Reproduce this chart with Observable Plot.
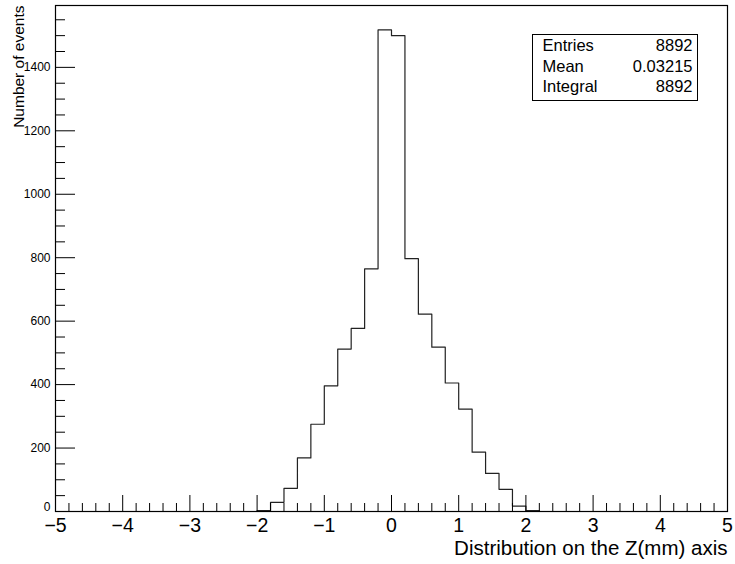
<!DOCTYPE html>
<html>
<head>
<meta charset="utf-8">
<script src="https://cdn.jsdelivr.net/npm/d3@7"></script>
<script src="https://cdn.jsdelivr.net/npm/@observablehq/plot@0.6"></script>
<style>
  html, body { margin: 0; padding: 0; background: white; }
  #chart { width: 735px; height: 564px; }
</style>
</head>
<body>
<div id="chart"></div>
<script>
// Histogram bins (left edges, width 0.2) with non-zero content
const binLeft = [-2.0, -1.8, -1.6, -1.4, -1.2, -1.0, -0.8, -0.6, -0.4, -0.2,
                 0.0, 0.2, 0.4, 0.6, 0.8, 1.0, 1.2, 1.4, 1.6, 1.8, 2.0];
const counts  = [3, 29, 73, 169, 275, 396, 512, 577, 765, 1518,
                 1500, 797, 622, 518, 405, 323, 187, 120, 70, 17, 3];
const binWidth = 0.2;
const xRange = [-5, 5];
const yRange = [0, 1595];

// Axis ticks
const xMajor = [-5, -4, -3, -2, -1, 0, 1, 2, 3, 4, 5];
const xMinor = [-4.8,-4.6,-4.4,-4.2,-3.8,-3.6,-3.4,-3.2,-2.8,-2.6,-2.4,-2.2,
                -1.8,-1.6,-1.4,-1.2,-0.8,-0.6,-0.4,-0.2,0.2,0.4,0.6,0.8,
                1.2,1.4,1.6,1.8,2.2,2.4,2.6,2.8,3.2,3.4,3.6,3.8,4.2,4.4,4.6,4.8];
const yMajor = [0, 200, 400, 600, 800, 1000, 1200, 1400];
const yMinor = [50,100,150,250,300,350,450,500,550,650,700,750,850,900,950,
                1050,1100,1150,1250,1300,1350,1450,1500,1550];

// Texts
const xTitle = "Distribution on the Z(mm) axis";
const yTitle = "Number of events";
const statNames = ["Entries", "Mean", "Integral"];
const statValues = ["8892", "0.03215", "8892"];

// Build step outline points
const pts = [{x: xRange[0], y: 0}];
binLeft.forEach((b, i) => pts.push({x: b, y: counts[i]}));
pts.push({x: +(binLeft[binLeft.length - 1] + binWidth).toFixed(2), y: 0});
pts.push({x: xRange[1], y: 0});

const W = 735, H = 564;
const mL = 55, mR = 8, mT = 5, mB = 53;
const fw = W - mL - mR, fh = H - mT - mB;

const chart = Plot.plot({
  width: W, height: H,
  marginLeft: mL, marginRight: mR, marginTop: mT, marginBottom: mB,
  x: {domain: xRange},
  y: {domain: yRange},
  style: {fontFamily: "'Liberation Sans', Arial, sans-serif", background: "white", color: "black", overflow: "visible"},
  marks: [
    Plot.line(pts, {x: "x", y: "y", curve: "step-after", stroke: "#222", strokeWidth: 1.2}),
    Plot.ruleX(xMajor, {insetTop: fh - 16, stroke: "black"}),
    Plot.ruleX(xMinor, {insetTop: fh - 8, stroke: "black"}),
    Plot.ruleY(yMajor, {insetRight: fw - 20, stroke: "black"}),
    Plot.ruleY(yMinor, {insetRight: fw - 10, stroke: "black"}),
    Plot.frame({stroke: "black", strokeWidth: 1.2}),
    Plot.axisX({ticks: xMajor, tickSize: 0, tickPadding: 7, fontSize: 19.5, label: null}),
    Plot.axisY({ticks: yMajor.filter(d => d !== 0), tickSize: 0, tickPadding: 5, fontSize: 12, tickFormat: d => String(d), label: null}),
    Plot.axisY({ticks: yMajor.filter(d => d === 0), tickSize: 0, tickPadding: 5, dy: -4, fontSize: 12, tickFormat: d => String(d), label: null}),
    Plot.text([xTitle], {frameAnchor: "bottom-right", textAnchor: "end", lineAnchor: "bottom", dx: 0, dy: 43, fontSize: 20.5}),
    Plot.text([yTitle], {frameAnchor: "top-left", textAnchor: "end", lineAnchor: "top", rotate: -90, dx: -43, dy: 0, fontSize: 15.5}),
    // Stats box
    Plot.frame({insetLeft: 477, insetRight: 30, insetTop: 29, insetBottom: fh - 95, stroke: "black", fill: "white"}),
    Plot.text([statNames.join("\n")], {frameAnchor: "top-left", textAnchor: "start", lineAnchor: "top", dx: 487, dy: 31, fontSize: 16.5, lineHeight: 1.25}),
    Plot.text([statValues.join("\n")], {frameAnchor: "top-right", textAnchor: "end", lineAnchor: "top", dx: -35, dy: 31, fontSize: 16.5, lineHeight: 1.25})
  ]
});
document.getElementById("chart").appendChild(chart);
</script>
</body>
</html>
